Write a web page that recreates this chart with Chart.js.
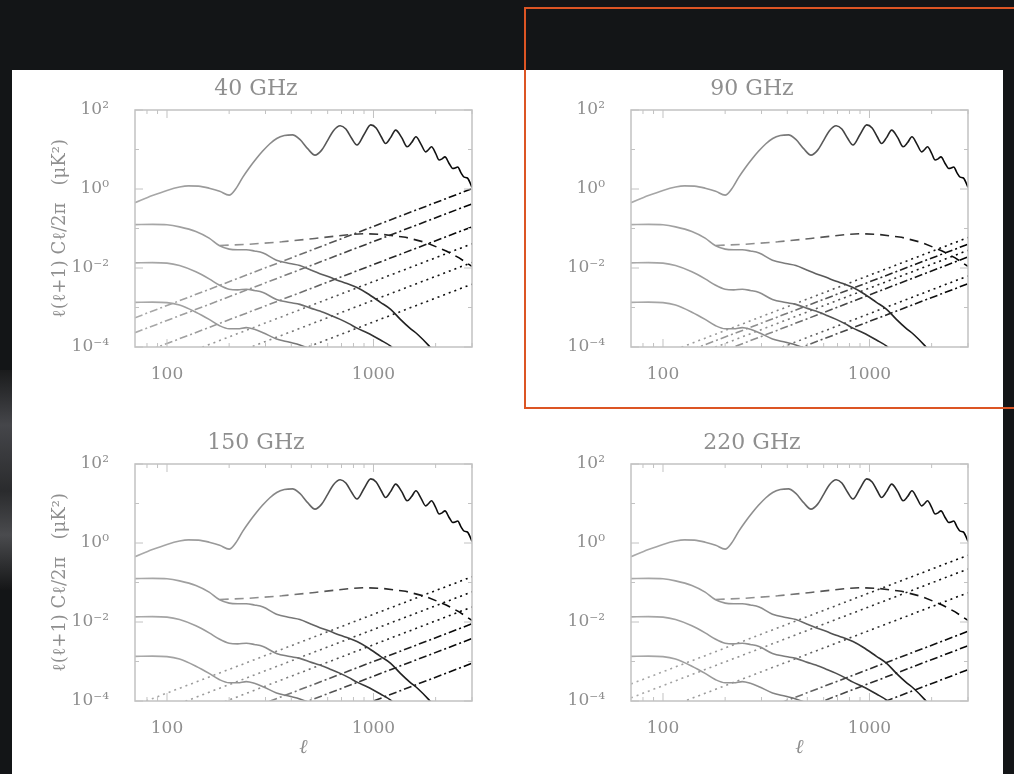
<!DOCTYPE html>
<html>
<head>
<meta charset="utf-8">
<title>CMB polarization spectra and foregrounds</title>
<script src="https://cdn.jsdelivr.net/npm/chart.js@4.4.1/dist/chart.umd.min.js"></script>
<style>
  html, body { margin: 0; padding: 0; }
  body { width: 1014px; height: 774px; background: #131517; position: relative; overflow: hidden; }
  .sheet { position: absolute; left: 12px; top: 70px; width: 991px; height: 704px; background: #fff; }
  .edge { position: absolute; left: 0; top: 370px; width: 12px; height: 220px;
          background: linear-gradient(#1a1b1c, #45464a 25%, #2a2b2d 55%, #4a4b4e 75%, #151617); }
  .panel { position: absolute; width: 442px; height: 337px; }
  .highlight { position: absolute; left: 524px; top: 7px; width: 494px; height: 398px;
               border: 2px solid #dc5524; }
</style>
</head>
<body>
<div class="edge"></div>
<div class="sheet"></div>
<div class="panel" style="left:40px;top:78px"><canvas id="p40"></canvas></div>
<div class="panel" style="left:536px;top:78px"><canvas id="p90"></canvas></div>
<div class="panel" style="left:40px;top:432px"><canvas id="p150"></canvas></div>
<div class="panel" style="left:536px;top:432px"><canvas id="p220"></canvas></div>
<div class="highlight"></div>
<script>
(function() {
    'use strict';

    // E-mode spectrum, l(l+1)C_l/2pi in uK^2
    var ellEE = [70, 85, 100, 115, 127, 142, 160, 180, 200, 215, 233, 250, 271, 290, 315, 340, 370, 405,
                 440, 480, 521, 560, 600, 640, 690, 735, 785, 832, 900, 970, 1030, 1090, 1145, 1210, 1280,
                 1370, 1455, 1530, 1605, 1700, 1790, 1850, 1910, 2000, 2080, 2150, 2220, 2320, 2420, 2490,
                 2560, 2650, 2750, 2850, 3000];
    var eeSpectrum = [0.45, 0.68, 0.92, 1.12, 1.2, 1.18, 1.05, 0.88, 0.70, 1.0, 2.0, 3.4, 5.9, 9.0, 14, 19,
                      22.5, 23.5, 18, 10.5, 7.2, 9.5, 17, 30, 40, 33, 19, 13, 24, 42, 35, 21, 14.2, 20, 31,
                      20, 11.7, 15, 21, 13.5, 8.7, 10, 11.7, 8, 5.4, 5.8, 6.5, 4.5, 3.3, 3.4, 3.6, 2.6, 2.0,
                      1.9, 1.1];

    // tensor B-modes, three amplitudes
    var ellB = [70, 85, 100, 115, 138, 160, 179, 200, 220, 242, 265, 292, 339, 393, 440, 500, 550, 617,
                690, 760, 832, 931, 1081, 1211, 1350, 1500, 1633, 1863, 2100];
    var bTensorHigh = [0.125, 0.127, 0.124, 0.11, 0.084, 0.057, 0.037, 0.030, 0.029, 0.029, 0.027, 0.024,
                       0.0158, 0.013, 0.0116, 0.0088, 0.0072, 0.0058, 0.0046, 0.0039, 0.0032, 0.0023,
                       0.00135, 0.0009, 0.0005, 0.0003, 0.00021, 0.000105, 0.00005];
    var bTensorMid = [0.0135, 0.0137, 0.0133, 0.0115, 0.008, 0.0053, 0.0037, 0.0029, 0.0028, 0.0029,
                      0.0027, 0.0024, 0.0016, 0.00134, 0.0012, 0.00095, 0.00081, 0.00064, 0.0005,
                      0.00039, 0.0003, 0.00023, 0.00015, 0.000105, 0.00006, 0.000035, 0.00002,
                      0.00001, 0.000005];
    var bTensorLow = [0.00135, 0.00137, 0.00133, 0.00115, 0.00076, 0.0005, 0.00035, 0.00029, 0.00029,
                      0.00031, 0.00028, 0.00023, 0.00016, 0.000132, 0.000113, 0.000088, 0.000072,
                      0.00005, 0.00004, 0.00003, 0.000024, 0.000018, 0.000012, 0.000009, 0.000006,
                      0.000004, 0.000003, 0.0000015, 0.0000008];

    // lensing B-modes
    var ellLens = [180, 250, 360, 520, 760, 910, 1100, 1430, 1800, 2250, 2600, 3000];
    var bLensing = [0.037, 0.040, 0.046, 0.056, 0.070, 0.074, 0.071, 0.060, 0.044, 0.027, 0.018, 0.011];

    // foreground residuals, value at l = 70 and l = 3000
    var ellFg = [70, 3000];
    var dotted40 = [[2.2e-5, 0.041], [7.5e-6, 0.0138], [2.1e-6, 0.0039]];
    var dashDot40 = [[5.5e-4, 1.02], [2.3e-4, 0.42], [6e-5, 0.11]];
    var dotted90 = [[3.2e-5, 0.059], [1.5e-5, 0.028], [3.4e-6, 0.0063]];
    var dashDot90 = [[2.2e-5, 0.040], [1.0e-5, 0.019], [2.2e-6, 0.0040]];
    var dotted150 = [[7.8e-5, 0.14], [3.2e-5, 0.058], [1.3e-5, 0.024]];
    var dashDot150 = [[4.9e-6, 0.009], [2.1e-6, 0.0038], [4.9e-7, 0.0009]];
    var dotted220 = [[2.7e-4, 0.49], [1.2e-4, 0.22], [3e-5, 0.055]];
    var dashDot220 = [[3.2e-6, 0.0058], [1.4e-6, 0.0025], [3.4e-7, 0.00062]];

    // axes
    var xTickLabels = [100, 1000];
    var yTickLabels = [1e-4, 1e-2, 1, 1e2];
    var xTickMarks = [80, 90, 100, 200, 300, 400, 500, 600, 700, 800, 900, 1000, 2000, 3000];
    var yTickMarks = [1e-4, 1e-3, 1e-2, 1e-1, 1, 10, 100];

    var INK = '#8f8f8f';
    var FRAME = '#c2c2c2';
    var SERIF = '"DejaVu Serif", "Liberation Serif", serif';
    var SUP = { '-': '\u207B', '0': '\u2070', '1': '\u00B9', '2': '\u00B2', '3': '\u00B3', '4': '\u2074' };

    function powerLabel(v) {
        var e = Math.round(Math.log10(v));
        return '10' + String(e).split('').map(function(c) { return SUP[c]; }).join('');
    }

    // grey at low l, black at high l, like the original print
    function inkGradient(context) {
        var chart = context.chart;
        var a = chart.chartArea;
        if (!a) return '#888';
        var g = chart.ctx.createLinearGradient(a.left, 0, a.right, 0);
        g.addColorStop(0, '#ababab');
        g.addColorStop(0.4, '#8c8c8c');
        g.addColorStop(0.72, '#2c2c2c');
        g.addColorStop(1, '#000');
        return g;
    }

    function curve(ells, vals, dash) {
        return {
            data: ells.map(function(l, i) { return { x: l, y: vals[i] }; }),
            borderColor: inkGradient,
            borderWidth: 1.6,
            borderDash: dash,
            pointRadius: 0,
            fill: false,
            cubicInterpolationMode: dash.length ? 'default' : 'monotone'
        };
    }

    var frameTicks = {
        id: 'frameTicks',
        afterDatasetsDraw: function(chart) {
            var ctx = chart.ctx, a = chart.chartArea, x = chart.scales.x, y = chart.scales.y;
            ctx.save();
            ctx.strokeStyle = FRAME;
            ctx.lineWidth = 1.5;
            ctx.strokeRect(a.left, a.top, a.right - a.left, a.bottom - a.top);
            ctx.lineWidth = 1;
            ctx.beginPath();
            xTickMarks.forEach(function(v) {
                var px = x.getPixelForValue(v);
                var len = xTickLabels.indexOf(v) >= 0 ? 8 : 4;
                ctx.moveTo(px, a.bottom); ctx.lineTo(px, a.bottom - len);
                ctx.moveTo(px, a.top); ctx.lineTo(px, a.top + len);
            });
            yTickMarks.forEach(function(v) {
                var py = y.getPixelForValue(v);
                var len = yTickLabels.indexOf(v) >= 0 ? 8 : 4;
                ctx.moveTo(a.left, py); ctx.lineTo(a.left + len, py);
                ctx.moveTo(a.right, py); ctx.lineTo(a.right - len, py);
            });
            ctx.stroke();
            ctx.restore();
        }
    };

    function makePanel(id, title, dotted, dashDot, leftTitle, bottomTitle) {
        var sets = [
            curve(ellEE, eeSpectrum, []),
            curve(ellB, bTensorHigh, []),
            curve(ellB, bTensorMid, []),
            curve(ellB, bTensorLow, []),
            curve(ellLens, bLensing, [9, 6])
        ];
        dotted.forEach(function(v) { sets.push(curve(ellFg, v, [2, 4])); });
        dashDot.forEach(function(v) { sets.push(curve(ellFg, v, [8, 3, 2, 3])); });

        new Chart(document.getElementById(id), {
            type: 'line',
            data: { datasets: sets },
            options: {
                responsive: true,
                maintainAspectRatio: false,
                animation: false,
                layout: { padding: { left: 0, right: 10, top: 0, bottom: 0 } },
                plugins: {
                    legend: { display: false },
                    tooltip: { enabled: false },
                    title: {
                        display: true,
                        text: title,
                        color: INK,
                        font: { family: SERIF, size: 22, weight: 'normal', lineHeight: 1 },
                        padding: { top: 0, bottom: 10 }
                    }
                },
                scales: {
                    x: {
                        type: 'logarithmic',
                        min: 70,
                        max: 3000,
                        grid: { display: false },
                        border: { display: false },
                        afterBuildTicks: function(s) { s.ticks = xTickLabels.map(function(v) { return { value: v }; }); },
                        afterFit: function(s) { s.height = 68; },
                        ticks: {
                            color: INK,
                            font: { family: SERIF, size: 17 },
                            padding: 9,
                            maxRotation: 0,
                            autoSkip: false,
                            callback: function(v) { return String(v); }
                        },
                        title: {
                            display: bottomTitle,
                            text: '\u2113',
                            color: INK,
                            font: { family: SERIF, size: 20, style: 'italic' },
                            padding: { top: 0, bottom: 9 }
                        }
                    },
                    y: {
                        type: 'logarithmic',
                        min: 1e-4,
                        max: 100,
                        grid: { display: false },
                        border: { display: false },
                        afterBuildTicks: function(s) { s.ticks = yTickLabels.map(function(v) { return { value: v }; }); },
                        afterFit: function(s) { s.width = 95; },
                        ticks: {
                            color: INK,
                            font: { family: SERIF, size: 17 },
                            padding: 18,
                            autoSkip: false,
                            callback: function(v) { return powerLabel(v); }
                        },
                        title: {
                            display: leftTitle,
                            text: '\u2113(\u2113+1) C\u2113/2\u03C0   (\u03BCK\u00B2)',
                            color: INK,
                            font: { family: SERIF, size: 18 },
                            padding: { top: 10, bottom: 0 }
                        }
                    }
                }
            },
            plugins: [frameTicks]
        });
    }

    makePanel('p40', '40 GHz', dotted40, dashDot40, true, false);
    makePanel('p90', '90 GHz', dotted90, dashDot90, false, false);
    makePanel('p150', '150 GHz', dotted150, dashDot150, true, true);
    makePanel('p220', '220 GHz', dotted220, dashDot220, false, true);
})();
</script>
</body>
</html>
